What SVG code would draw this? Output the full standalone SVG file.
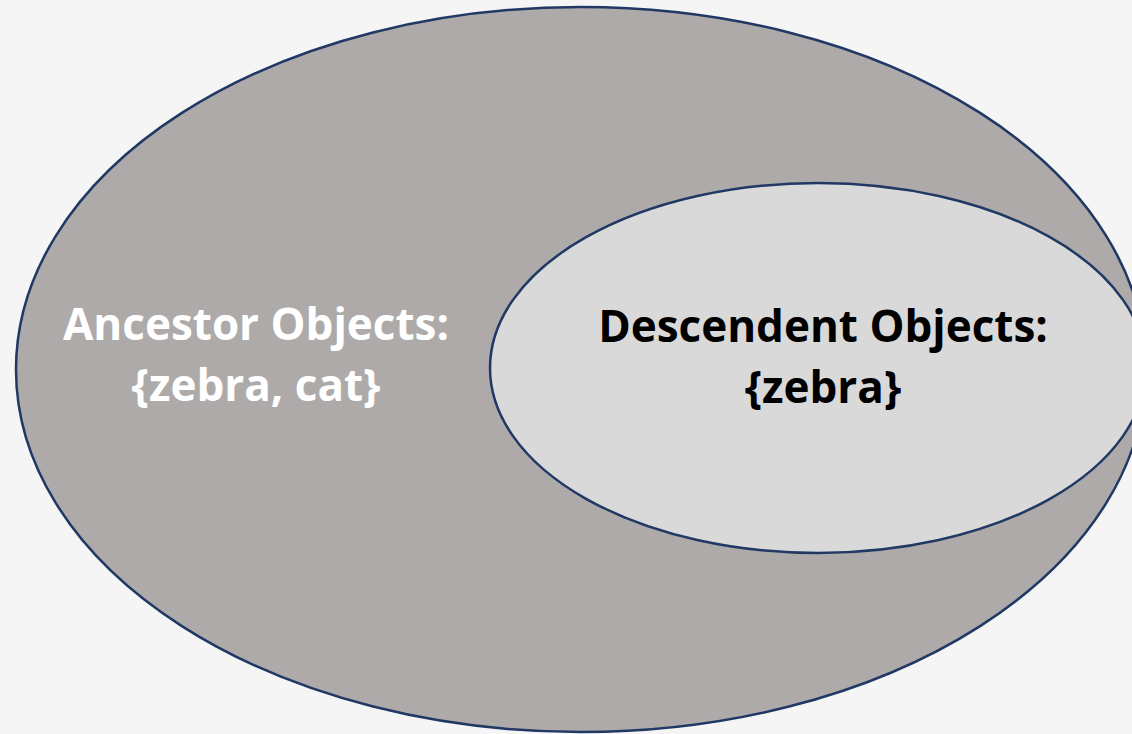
<svg xmlns="http://www.w3.org/2000/svg" width="1132" height="734" viewBox="0 0 1132 734">
<style>
.lbl{font-family:"Open Sans",Lato,"Liberation Sans",sans-serif;font-weight:bold;font-size:44px;text-anchor:middle}
.ell{stroke:#1F3864;stroke-width:2.5}
</style>
<rect width="1132" height="734" fill="#F5F5F5"/>
<g id="ancestor">
<ellipse class="ell" cx="581" cy="369.5" rx="565" ry="362.5" fill="#AEAAAA"/>
<text class="lbl" x="256" y="340" fill="#FFFFFF">Ancestor Objects:</text>
<text class="lbl" x="256" y="401" fill="#FFFFFF">{zebra, cat}</text>
</g>
<g id="descendent">
<ellipse class="ell" cx="818" cy="368" rx="328" ry="185" fill="#D9D9D9"/>
<text class="lbl" x="823" y="342" fill="#000000">Descendent Objects:</text>
<text class="lbl" x="823" y="403" fill="#000000">{zebra}</text>
</g>
<g id="connectors"/>
</svg>
